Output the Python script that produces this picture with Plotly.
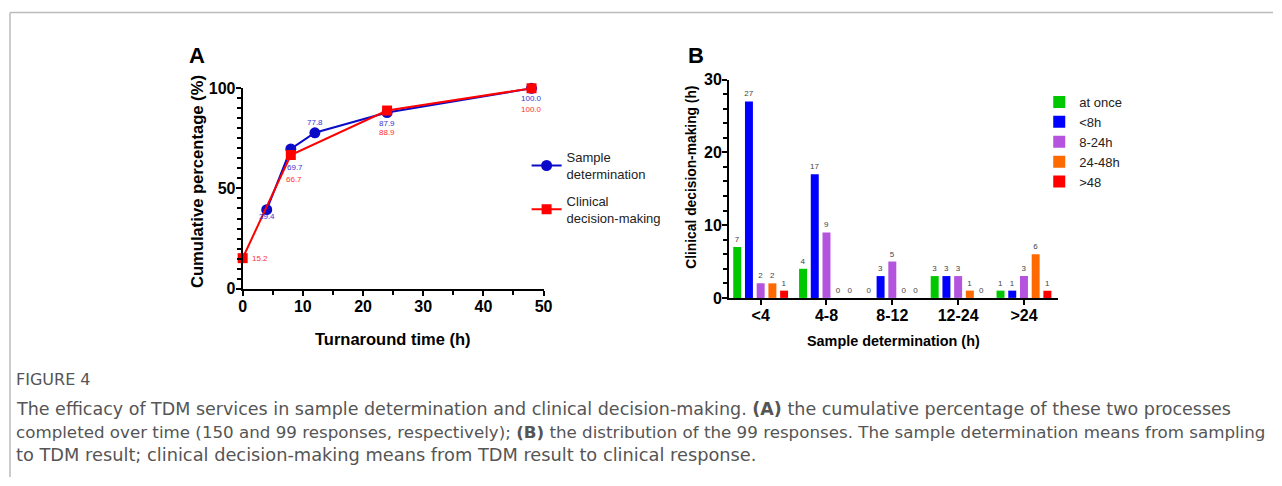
import plotly.graph_objects as go

W, H = 1282, 486

# ---------------- Data ----------------
# Panel A: cumulative percentages
sample_x = [4, 8, 12, 24, 48]
sample_y = [39.4, 69.7, 77.8, 87.9, 100.0]
clinical_x = [0, 8, 24, 48]
clinical_y = [15.2, 66.7, 88.9, 100.0]

# Panel B: distribution of 99 responses
categories = ["<4", "4-8", "8-12", "12-24", ">24"]
at_once = [7, 4, 0, 3, 1]
lt_8h = [27, 17, 3, 3, 1]
h8_24 = [2, 9, 5, 3, 3]
h24_48 = [2, 0, 0, 1, 6]
gt_48 = [1, 0, 0, 0, 1]

bar_series = [
    ("at once", at_once, "#00c800"),
    ("<8h", lt_8h, "#0000ff"),
    ("8-24h", h8_24, "#b453dd"),
    ("24-48h", h24_48, "#ff6a00"),
    (">48", gt_48, "#ff0000"),
]

FONT = "Liberation Sans, Arial, sans-serif"
CAP_FONT = "DejaVu Sans, Open Sans, sans-serif"

# layout helpers: target pixel position -> paper coordinate (compensates observed capture scaling)
def px_x(p):
    return ((p - 3.0) / 0.9925) / W

def px_y(p):
    return 1 - ((p - 7.4) / 0.965) / H

fig = go.Figure()

# ---------------- Panel A ----------------
fig.add_trace(go.Scatter(
    x=sample_x, y=sample_y, mode="lines+markers", name="Sample<br>determination",
    line=dict(color="#0a0ac8", width=2),
    marker=dict(symbol="circle", size=11, color="#0a0ac8"),
    xaxis="x", yaxis="y", legend="legend", legendgroup="a", cliponaxis=False,
))
fig.add_trace(go.Scatter(
    x=clinical_x, y=clinical_y, mode="lines+markers", name="Clinical<br>decision-making",
    line=dict(color="#ff0000", width=2),
    marker=dict(symbol="square", size=10, color="#ff0000"),
    xaxis="x", yaxis="y", legend="legend", legendgroup="b", cliponaxis=False,
))

# value labels (offsets in pixels)
blue_offsets = [(0, -7), (4, -19), (0, 10), (0, -11), (0, -10)]
red_offsets = [(7, 0, "left"), (3, -24, "center"), (0, -22, "center"), (0, -21, "center")]
annotations = []
for (xv, yv), (dx, dy) in zip(zip(sample_x, sample_y), blue_offsets):
    annotations.append(dict(x=xv, y=yv, xref="x", yref="y", text=f"{yv:.1f}",
                            showarrow=False, xshift=dx, yshift=dy,
                            font=dict(family=FONT, size=8, color="#3434d6")))
for (xv, yv), (dx, dy, anc) in zip(zip(clinical_x, clinical_y), red_offsets):
    annotations.append(dict(x=xv, y=yv, xref="x", yref="y", text=f"{yv:.1f}",
                            showarrow=False, xshift=dx, yshift=dy, xanchor=anc,
                            font=dict(family=FONT, size=8, color="#ff3030")))

# ---------------- Panel B ----------------
for name, vals, col in bar_series:
    fig.add_trace(go.Bar(
        x=categories, y=vals, name=name, marker=dict(color=col, line=dict(width=0)),
        text=[str(v) for v in vals], textposition="outside", constraintext="none",
        textfont=dict(family=FONT, size=8, color="#444444"),
        xaxis="x2", yaxis="y2", legend="legend2", cliponaxis=False,
    ))

axis_common = dict(
    showline=True, linecolor="black", linewidth=2, ticks="outside", ticklen=5,
    tickwidth=2, tickcolor="black", showgrid=False, zeroline=False,
    ticklabelstandoff=-3,
    tickfont=dict(family=FONT, size=16, color="black", weight="bold"),
)
minor_common = dict(ticklen=4, tickwidth=2, tickcolor="black", ticks="outside")

fig.update_layout(
    width=W, height=H, margin=dict(l=0, r=0, t=0, b=0),
    paper_bgcolor="white", plot_bgcolor="white",
    font=dict(family=FONT, color="black"),
    barmode="group", bargap=0.11, bargroupgap=0.32,
    xaxis=dict(domain=[px_x(242.3), px_x(544)], range=[0, 50], tickvals=[0, 10, 20, 30, 40, 50],
               minor=dict(dtick=5, **minor_common), anchor="y", **axis_common),
    yaxis=dict(domain=[px_y(288), px_y(87.7)], range=[0, 100], tickvals=[0, 50, 100],
               minor=dict(dtick=5, **minor_common), anchor="x", **axis_common),
    xaxis2=dict(domain=[px_x(730), px_x(1060)], range=[-0.48, 4.52],
                anchor="y2", **axis_common),
    yaxis2=dict(domain=[px_y(297.3), px_y(79)], range=[0, 30], tickvals=[0, 10, 20, 30],
                minor=dict(dtick=2, **minor_common), anchor="x2", **axis_common),
    legend=dict(x=px_x(527), y=px_y(141.5), xanchor="left", yanchor="top",
                font=dict(family=FONT, size=13, color="#222222"),
                bgcolor="rgba(0,0,0,0)", tracegroupgap=7, itemwidth=30),
    legend2=dict(x=px_x(1041), y=px_y(86.4), xanchor="left", yanchor="top",
                 font=dict(family=FONT, size=13, color="#222222"),
                 bgcolor="rgba(0,0,0,0)", itemwidth=30),
    showlegend=True,
)

def text_at(x, y, text, size, angle=0, anchor="center", family=FONT, color="black"):
    annotations.append(dict(x=px_x(x), y=px_y(y), xref="paper", yref="paper", text=text,
                            showarrow=False, xanchor=anchor, yanchor="middle", textangle=angle,
                            font=dict(family=family, size=size, color=color)))

# axis titles
text_at(393, 338, "<b>Turnaround time (h)</b>", 16.5)
text_at(197, 181, "<b>Cumulative percentage (%)</b>", 16.6, angle=-90)
text_at(895, 340, "<b>Sample determination (h)</b>", 14.4)
text_at(692, 177, "<b>Clinical decision-making (h)</b>", 13.8, angle=-90)

# panel letters
text_at(197, 55, "<b>A</b>", 22)
text_at(697, 55, "<b>B</b>", 22)

# caption
cap_lines = [
    "The efficacy of TDM services in sample determination and clinical decision-making. <b>(A)</b> the cumulative percentage of these two processes",
    "completed over time (150 and 99 responses, respectively); <b>(B)</b> the distribution of the 99 responses. The sample determination means from sampling",
    "to TDM result; clinical decision-making means from TDM result to clinical response.",
]
cap_sizes = [17.5, 16.7, 17.8]
text_at(13, 379, "FIGURE 4", 16, anchor="left", family=CAP_FONT, color="#555555")
for i, (line, sz) in enumerate(zip(cap_lines, cap_sizes)):
    text_at(13, 408 + 23 * i, line, sz, anchor="left", family=CAP_FONT, color="#555555")

fig.update_layout(annotations=annotations)

# frame lines
fig.add_shape(type="line", xref="paper", yref="paper", x0=px_x(9), x1=1, y0=px_y(12), y1=px_y(12),
              line=dict(color="#bbbbbb", width=1.5))
fig.add_shape(type="line", xref="paper", yref="paper", x0=px_x(9), x1=px_x(9), y0=px_y(12), y1=0,
              line=dict(color="#bbbbbb", width=1.5))

fig.write_html(
    "out.html",
    config={"displayModeBar": False},
    post_script=(
        "document.documentElement.style.margin='0';document.body.style.margin='0';"
        "document.body.style.padding='0';document.body.style.overflow='hidden';"
        "document.documentElement.style.overflow='hidden';"
        "var d=document.getElementById('{plot_id}');d.style.position='fixed';"
        "d.style.top='0px';d.style.left='0px';"
    ),
)
